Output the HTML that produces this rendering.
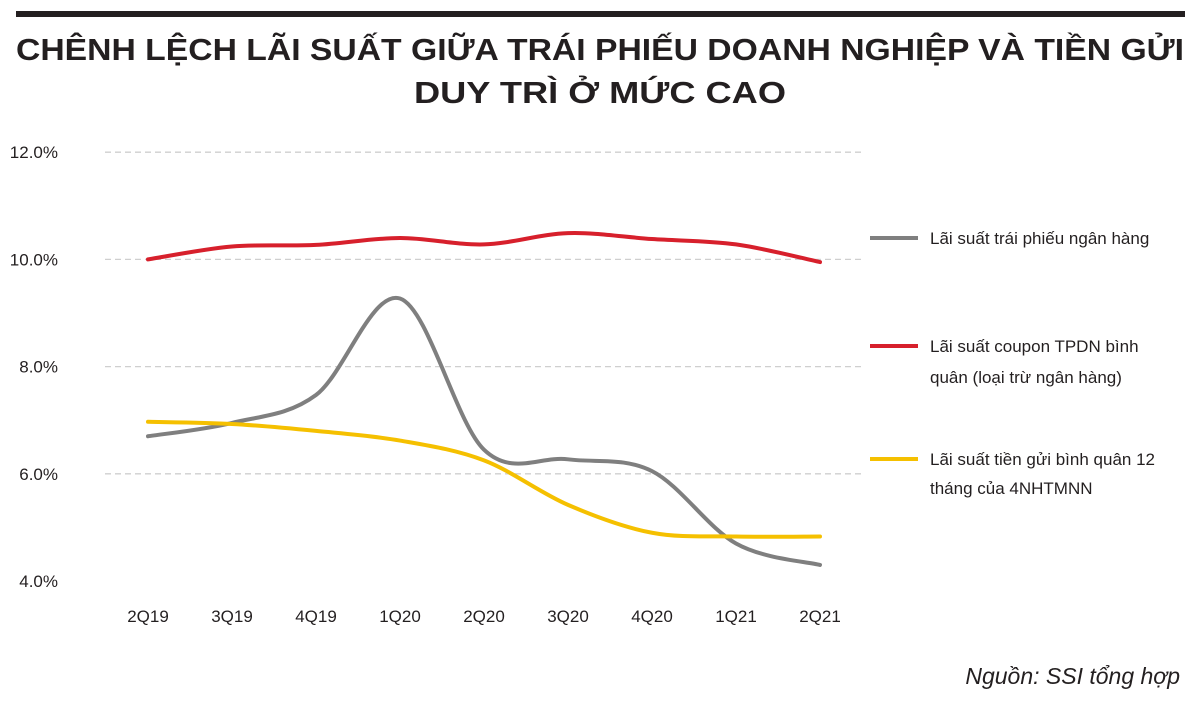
<!DOCTYPE html>
<html><head><meta charset="utf-8"><style>
body{margin:0;background:#fff;}
svg{display:block;font-family:"Liberation Sans",sans-serif;}
</style></head><body>
<svg width="1200" height="701" viewBox="0 0 1200 701">
<rect x="16" y="11" width="1169" height="6" fill="#231f20"/>
<text x="600" y="60" text-anchor="middle" font-size="31" font-weight="bold" fill="#231f20" textLength="1168" lengthAdjust="spacingAndGlyphs">CHÊNH LỆCH LÃI SUẤT GIỮA TRÁI PHIẾU DOANH NGHIỆP VÀ TIỀN GỬI</text>
<text x="600" y="103" text-anchor="middle" font-size="31" font-weight="bold" fill="#231f20" textLength="372" lengthAdjust="spacingAndGlyphs">DUY TRÌ Ở MỨC CAO</text>
<g id="grid"></g><g id="ylabels"></g><g id="xlabels"></g><g id="series"></g>
<g>
<line x1="870" y1="238" x2="918" y2="238" stroke="#7f7f7f" stroke-width="4"/>
<text x="930" y="244" font-size="17" fill="#231f20">Lãi suất trái phiếu ngân hàng</text>
<line x1="870" y1="346" x2="918" y2="346" stroke="#d7202c" stroke-width="4"/>
<text x="930" y="352" font-size="17" fill="#231f20">Lãi suất coupon TPDN bình</text>
<text x="930" y="383" font-size="17" fill="#231f20">quân (loại trừ ngân hàng)</text>
<line x1="870" y1="459" x2="918" y2="459" stroke="#f5c000" stroke-width="4"/>
<text x="930" y="465" font-size="17" fill="#231f20">Lãi suất tiền gửi bình quân 12</text>
<text x="930" y="494" font-size="17" fill="#231f20">tháng của 4NHTMNN</text>
</g>
<text x="1180" y="684" text-anchor="end" font-size="23" font-style="italic" fill="#231f20">Nguồn: SSI tổng hợp</text>
</svg>
<script>
const categories=["2Q19","3Q19","4Q19","1Q20","2Q20","3Q20","4Q20","1Q21","2Q21"];
const yTicks=[4,6,8,10,12];
const bankBond=[6.7,6.95,7.47,9.27,6.45,6.27,6.05,4.7,4.3];
const corpCoupon=[10.0,10.24,10.27,10.4,10.28,10.49,10.38,10.28,9.95];
const deposit=[6.97,6.93,6.8,6.62,6.25,5.42,4.9,4.83,4.83];
const NS="http://www.w3.org/2000/svg";
const x=i=>148+i*84;
const y=v=>581-(v-4)*53.6;
function mk(t,a,p){const e=document.createElementNS(NS,t);for(const k in a)e.setAttribute(k,a[k]);document.getElementById(p).appendChild(e);return e;}
yTicks.forEach(v=>{
 if(v>4){const g=mk('line',{x1:105,x2:862,y1:y(v),y2:y(v),stroke:'#cfcfcf','stroke-width':1.3,'stroke-dasharray':'6,4'},'grid');
 
 }
 const t=mk('text',{x:58,y:y(v)+6,'text-anchor':'end','font-size':17,fill:'#231f20'},'ylabels');
 t.textContent=v.toFixed(1)+'%';
 
 
});
categories.forEach((c,i)=>{
 const t=mk('text',{x:x(i),y:622,'text-anchor':'middle','font-size':17,fill:'#231f20'},'xlabels');
 t.textContent=c;
 
 
});
function path(vals){
 const p=vals.map((v,i)=>[x(i),y(v)]);let d='M'+p[0];
 for(let i=0;i<p.length-1;i++){const p0=p[i-1]||p[i],p1=p[i],p2=p[i+1],p3=p[i+2]||p2;
  const c1=[p1[0]+(p2[0]-p0[0])/6,p1[1]+(p2[1]-p0[1])/6],c2=[p2[0]-(p3[0]-p1[0])/6,p2[1]-(p3[1]-p1[1])/6];
  d+=' C'+c1+' '+c2+' '+p2;}
 return d;}
[[bankBond,'#7f7f7f','line-bank-bond'],[corpCoupon,'#d7202c','line-corporate-coupon'],[deposit,'#f5c000','line-deposit']].forEach(s=>{
 const e=mk('path',{d:path(s[0]),fill:'none',stroke:s[1],'stroke-width':4,'stroke-linecap':'round'},'series');
 
 
});
</script>
</body></html>
